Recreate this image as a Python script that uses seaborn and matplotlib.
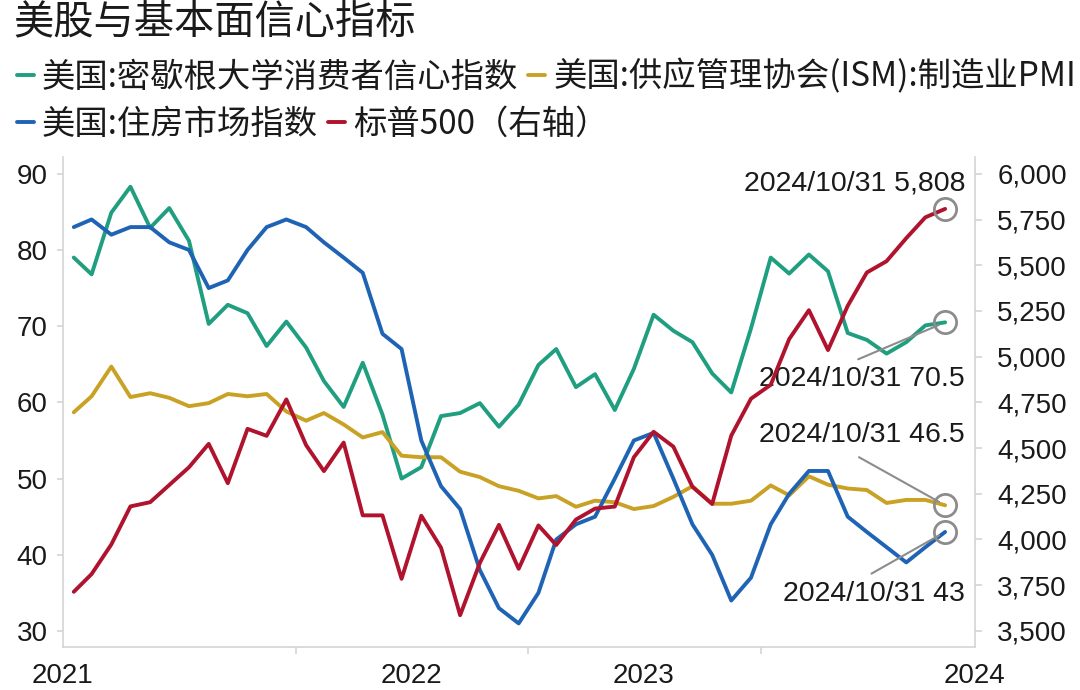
import pandas as pd
import matplotlib
matplotlib.use('Agg')
import matplotlib.pyplot as plt
import matplotlib.dates as mdates
from matplotlib.font_manager import FontProperties
import seaborn as sns

# monthly data, Jan 2021 - Oct 2024
dates = pd.date_range('2021-01-31', periods=46, freq='ME')

michigan = [79.0, 76.8, 84.9, 88.3, 82.9, 85.5, 81.2, 70.3, 72.8, 71.7, 67.4, 70.6,
            67.2, 62.8, 59.4, 65.2, 58.4, 50.0, 51.5, 58.2, 58.6, 59.9, 56.8, 59.7,
            64.9, 67.0, 62.0, 63.7, 59.0, 64.4, 71.5, 69.4, 67.9, 63.8, 61.3, 69.7,
            79.0, 76.9, 79.4, 77.2, 69.1, 68.2, 66.4, 67.9, 70.1, 70.5]
ism_pmi = [58.7, 60.8, 64.7, 60.7, 61.2, 60.6, 59.5, 59.9, 61.1, 60.8, 61.1, 58.8,
           57.6, 58.6, 57.1, 55.4, 56.1, 53.0, 52.8, 52.8, 50.9, 50.2, 49.0, 48.4,
           47.4, 47.7, 46.3, 47.1, 46.9, 46.0, 46.4, 47.6, 49.0, 46.7, 46.7, 47.1,
           49.1, 47.8, 50.3, 49.2, 48.7, 48.5, 46.8, 47.2, 47.2, 46.5]
nahb = [83, 84, 82, 83, 83, 81, 80, 75, 76, 80, 83, 84,
        83, 81, 79, 77, 69, 67, 55, 49, 46, 38, 33, 31,
        35, 42, 44, 45, 50, 55, 56, 50, 44, 40, 34, 37,
        44, 48, 51, 51, 45, 43, 41, 39, 41, 43]
sp500 = [3714, 3811, 3973, 4181, 4204, 4298, 4395, 4523, 4308, 4605, 4567, 4766,
         4516, 4374, 4530, 4132, 4132, 3785, 4130, 3955, 3586, 3872, 4080, 3840,
         4077, 3970, 4109, 4169, 4180, 4450, 4589, 4508, 4288, 4194, 4568, 4770,
         4846, 5096, 5254, 5036, 5278, 5460, 5522, 5648, 5762, 5808]

labels = ['美国:密歇根大学消费者信心指数', '美国:供应管理协会(ISM):制造业PMI',
          '美国:住房市场指数', '标普500（右轴）']
year_labels = ['2021', '2022', '2023', '2024']
year_label_pos = ['2021-01-14', '2022-07-15', '2023-07-15', '2024-12-16']
year_breaks = ['2022-01-15', '2023-01-15', '2024-01-15']
last_label = '2024/10/31'

df = pd.DataFrame({'date': dates, 'michigan': michigan, 'ism': ism_pmi,
                   'nahb': nahb, 'sp500': sp500})

c_teal = '#1f9e80'
c_gold = '#c9a125'
c_blue = '#1f64b4'
c_red = '#b0132d'
c_gray = '#8c8c8c'
c_spine = '#d4d4d4'
c_text = '#1a1a1a'

sns.set_theme(style='ticks')
plt.rcParams['font.family'] = ['Liberation Sans', 'Noto Sans CJK SC']
cjk = ['Noto Sans CJK SC', 'Liberation Sans']

fig, ax = plt.subplots(figsize=(10.8, 6.9), dpi=100)
fig.subplots_adjust(left=0.0583, right=0.9028, bottom=0.0623, top=0.7725)
ax2 = ax.twinx()

lw = 2.8
sns.lineplot(data=df, x='date', y='michigan', ax=ax, color=c_teal, lw=lw)
sns.lineplot(data=df, x='date', y='ism', ax=ax, color=c_gold, lw=lw)
sns.lineplot(data=df, x='date', y='nahb', ax=ax, color=c_blue, lw=lw)
sns.lineplot(data=df, x='date', y='sp500', ax=ax2, color=c_red, lw=lw)
handles = [ax.lines[0], ax.lines[1], ax.lines[2], ax2.lines[0]]

for a in (ax, ax2):
    a.set_xlabel('')
    a.set_ylabel('')
    if a.get_legend():
        a.get_legend().remove()

ax.set_ylim(27.9, 92.2)
ax.set_yticks([30, 40, 50, 60, 70, 80, 90])
ax2.set_ylim(3412, 6092)
ax2.set_yticks(range(3500, 6001, 250))
ax2.yaxis.set_major_formatter(matplotlib.ticker.StrMethodFormatter('{x:,.0f}'))

# year labels sit between the year-boundary tick marks
ax.set_xlim(mdates.date2num(pd.Timestamp('2021-01-14')),
            mdates.date2num(pd.Timestamp('2024-12-17')))
ax.set_xticks([mdates.date2num(pd.Timestamp(d)) for d in year_label_pos])
ax.set_xticklabels(year_labels)
ax.set_xticks([mdates.date2num(pd.Timestamp(d)) for d in year_breaks], minor=True)
ax.tick_params(axis='x', which='major', length=0, pad=11.5, labelsize=20, labelcolor=c_text)
ax.tick_params(axis='x', which='minor', length=5, width=1.2, color=c_spine, direction='out')
ax.tick_params(axis='y', length=4.5, width=1.2, color=c_spine, pad=6.5, labelsize=20,
               labelcolor=c_text, direction='out')
ax2.tick_params(axis='y', length=5, width=1.2, color=c_spine, pad=11, labelsize=20,
                labelcolor=c_text, direction='out')

for a in (ax, ax2):
    a.spines['top'].set_visible(False)
    for s in ('left', 'right', 'bottom'):
        a.spines[s].set_color(c_spine)
        a.spines[s].set_linewidth(1.2)
ax.spines['right'].set_visible(False)
ax2.spines['left'].set_visible(False)
ax2.spines['bottom'].set_visible(False)

# end-point rings and labels
last = dates[-1]
ring = dict(marker='o', ms=16, mfc='none', mec=c_gray, mew=2, ls='none', zorder=5)
ax.plot([last], [michigan[-1]], **ring)
ax.plot([last], [ism_pmi[-1]], **ring)
ax.plot([last], [nahb[-1]], **ring)
ax2.plot([last], [sp500[-1]], **ring)

txt = dict(textcoords='offset points', ha='right', va='center', fontsize=20.5, color=c_text)
link = dict(arrowstyle='-', color=c_gray, lw=1.5, shrinkA=0, shrinkB=5)

ax2.annotate(f'{last_label} {sp500[-1]:,}', xy=(last, sp500[-1]), xytext=(14.4, 18), **txt)

ax.annotate(f'{last_label} {michigan[-1]:g}', xy=(last, michigan[-1]), xytext=(14.4, -41), **txt)
ax.annotate('', xy=(last, michigan[-1]), xytext=(-62.6, -26.6),
            textcoords='offset points', arrowprops=link)

ax.annotate(f'{last_label} {ism_pmi[-1]:g}', xy=(last, ism_pmi[-1]), xytext=(14.4, 50.4), **txt)
ax.annotate('', xy=(last, ism_pmi[-1]), xytext=(-62, 34.6),
            textcoords='offset points', arrowprops=link)

ax.annotate(f'{last_label} {nahb[-1]:g}', xy=(last, nahb[-1]), xytext=(14.4, -44.6), **txt)
ax.annotate('', xy=(last, nahb[-1]), xytext=(-53, -30),
            textcoords='offset points', arrowprops=link)

# title and legend rows
fig.text(13 / 1080, 1 - 22 / 690, '美股与基本面信心指标', fontsize=29, color=c_text,
         ha='left', va='center', family=cjk)

leg_font = FontProperties(family=cjk, size=24)
leg_kw = dict(ncol=2, loc='center left', frameon=False, prop=leg_font,
              handlelength=0.5, handletextpad=0.25, columnspacing=0.3,
              borderpad=0, borderaxespad=0, labelcolor=c_text)
fig.legend(handles[:2], labels[:2], bbox_to_anchor=(17 / 1080, 1 - 77 / 690), **leg_kw)
fig.legend(handles[2:], labels[2:], bbox_to_anchor=(17 / 1080, 1 - 124 / 690), **leg_kw)

fig.savefig('out.png', dpi=100)
